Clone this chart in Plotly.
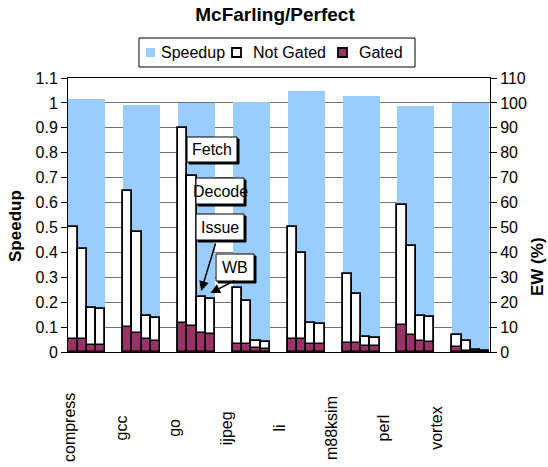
import plotly.graph_objects as go

# ---------------- data ----------------
benchmarks = ["compress", "gcc", "go", "ijpeg", "li", "m88ksim", "perl", "vortex"]
speedup = [1.016, 0.992, 0.999, 1.002, 1.048, 1.029, 0.988, 0.999]

stages = ["Fetch", "Decode", "Issue", "WB"]
not_gated_fetch = [50.3, 64.7, 90.1, 25.8, 50.3, 31.2, 59.0, 6.8]
not_gated_decode = [41.2, 48.3, 70.7, 20.5, 39.6, 23.3, 42.6, 4.4]
not_gated_issue = [17.5, 14.5, 22.0, 4.4, 11.5, 6.2, 14.5, 0.8]
not_gated_wb = [17.3, 13.5, 21.2, 4.1, 11.3, 5.8, 13.9, 0.6]

gated_fetch = [5.1, 10.2, 11.5, 3.2, 5.1, 3.5, 10.8, 1.9]
gated_decode = [5.1, 7.5, 10.4, 3.2, 5.1, 3.5, 6.8, 0.5]
gated_issue = [2.8, 5.1, 7.5, 1.5, 3.2, 2.4, 4.4, 0.2]
gated_wb = [2.8, 4.5, 7.2, 1.3, 3.2, 2.4, 4.1, 0.2]

left_ticks = [0, 0.1, 0.2, 0.3, 0.4, 0.5, 0.6, 0.7, 0.8, 0.9, 1, 1.1]
right_ticks = [0, 10, 20, 30, 40, 50, 60, 70, 80, 90, 100, 110]

series_names = ["Speedup", "Not Gated", "Gated"]
series_colors = ["#99CCFF", "white", "#993366"]

# ---------------- geometry (layout only) ----------------
W, H = 548, 467
PL, PR, PT, PB = 68, 490, 78, 352          # plot area in pixels
X_RANGE = [0, PR - PL]                     # x axis in pixel-like units
GROUP_OFF, GROUP_STEP, GROUP_W = 0.3, 54.86, 37.0
SUB_W = GROUP_W / 4
LABEL_OFF, LABEL_STEP = 2.0, 52.4

FONT = "Arial, Liberation Sans, sans-serif"

ng = [not_gated_fetch, not_gated_decode, not_gated_issue, not_gated_wb]
gt = [gated_fetch, gated_decode, gated_issue, gated_wb]

group_start = [GROUP_OFF + GROUP_STEP * i for i in range(len(benchmarks))]
sp_x = [s + GROUP_W / 2 for s in group_start]

sub_x, ng_y, gt_y = [], [], []
for i, s in enumerate(group_start):
    for k in range(4):
        sub_x.append(s + (k + 0.5) * SUB_W)
        ng_y.append(ng[k][i])
        gt_y.append(gt[k][i])


def px_x(px):
    return px - PL


def px_y2(py):
    return (PB - py) / (PB - PT) * 110


def paper_x(px):
    return (px - PL) / (PR - PL)


def paper_y(py):
    return (PB - py) / (PB - PT)


fig = go.Figure()
fig.add_trace(go.Bar(
    x=sp_x, y=speedup, width=[GROUP_W] * len(sp_x), name=series_names[0],
    marker=dict(color=series_colors[0], line=dict(width=0)), yaxis="y", showlegend=False))
fig.add_trace(go.Bar(
    x=sub_x, y=ng_y, width=[SUB_W] * len(sub_x), name=series_names[1],
    marker=dict(color=series_colors[1], line=dict(color="black", width=1.8)), yaxis="y2",
    showlegend=False))
fig.add_trace(go.Bar(
    x=sub_x, y=gt_y, width=[SUB_W] * len(sub_x), name=series_names[2],
    marker=dict(color=series_colors[2], line=dict(color="black", width=1.5)), yaxis="y2",
    showlegend=False))

annotations = []
shapes = []

# category labels (rotated)
for i, b in enumerate(benchmarks):
    annotations.append(dict(
        text=b, x=LABEL_OFF + LABEL_STEP * i, xref="x", y=paper_y(428), yref="paper",
        textangle=-90, showarrow=False, xanchor="center", yanchor="middle",
        font=dict(size=16, family=FONT, color="black")))

# axis titles
annotations.append(dict(text="<b>Speedup</b>", x=paper_x(15), y=paper_y(226), xref="paper", yref="paper",
                        textangle=-90, showarrow=False, xanchor="center", yanchor="middle",
                        font=dict(size=17, family=FONT, color="black")))
annotations.append(dict(text="<b>EW (%)</b>", x=paper_x(537), y=paper_y(267), xref="paper", yref="paper",
                        textangle=-90, showarrow=False, xanchor="center", yanchor="middle",
                        font=dict(size=17, family=FONT, color="black")))

# legend box (drawn as shapes + text)
shapes.append(dict(type="rect", xref="paper", yref="paper",
                   x0=paper_x(139), x1=paper_x(415), y0=paper_y(67), y1=paper_y(38),
                   line=dict(color="black", width=1), fillcolor="white", layer="above"))
legend_items = [(146, 159), (232, 251), (338, 357)]
for (sx, tx), name, col in zip(legend_items, series_names, series_colors):
    border = dict(width=0) if name == "Speedup" else dict(color="black", width=1.8)
    shapes.append(dict(type="rect", xref="paper", yref="paper",
                       x0=paper_x(sx), x1=paper_x(sx + 9), y0=paper_y(57), y1=paper_y(48),
                       line=border, fillcolor=col, layer="above"))
    annotations.append(dict(text=name, x=paper_x(tx), y=paper_y(52.5), xref="paper", yref="paper",
                            showarrow=False, xanchor="left", yanchor="middle",
                            font=dict(size=16, family=FONT, color="black")))

# callout boxes (box with drop shadow as shapes, text as annotation)
boxes = [("Fetch", 187, 137, 237, 162),
         ("Decode", 196, 178, 244, 204),
         ("Issue", 196, 214, 244, 240),
         ("WB", 216, 254, 254, 281)]
for txt, x0, y0, x1, y1 in boxes:
    shapes.append(dict(type="rect", xref="x", yref="y2",
                       x0=px_x(x0 + 2), x1=px_x(x1 + 2), y0=px_y2(y1 + 2), y1=px_y2(y0 + 2),
                       line=dict(color="black", width=1), fillcolor="black", layer="above"))
    shapes.append(dict(type="rect", xref="x", yref="y2",
                       x0=px_x(x0), x1=px_x(x1), y0=px_y2(y1), y1=px_y2(y0),
                       line=dict(color="black", width=1), fillcolor="white", layer="above"))
    annotations.append(dict(text=txt, x=px_x((x0 + x1) / 2), y=px_y2((y0 + y1) / 2),
                            xref="x", yref="y2", showarrow=False,
                            xanchor="center", yanchor="middle",
                            font=dict(size=16, family=FONT, color="black")))

# arrows pointing at go's Issue and WB bars
go_i = benchmarks.index("go")
for k, (tx, ty) in [(2, (216, 242)), (3, (236, 280))]:
    hx = group_start[go_i] + (k + 0.5) * SUB_W
    hy = ng[k][go_i] + 2.5
    annotations.append(dict(text="", x=hx, y=hy, xref="x", yref="y2",
                            ax=px_x(tx), ay=px_y2(ty), axref="x", ayref="y2",
                            showarrow=True, arrowhead=2, arrowsize=1.3, arrowwidth=1.5,
                            arrowcolor="black", standoff=0))

fig.update_layout(
    width=W, height=H, autosize=False,
    margin=dict(l=PL, r=W - PR, t=PT, b=H - PB, pad=0, autoexpand=False),
    paper_bgcolor="white", plot_bgcolor="white",
    barmode="overlay", bargap=0,
    font=dict(family=FONT, size=16, color="black"),
    title=dict(text="<b>McFarling/Perfect</b>", x=275 / W, xref="container", xanchor="center",
               y=1 - 14 / H, yref="container", yanchor="middle",
               font=dict(size=19, family=FONT, color="black")),
    showlegend=False,
    xaxis=dict(range=X_RANGE, showticklabels=False, showgrid=False, zeroline=False,
               showline=True, linecolor="black", linewidth=1, mirror=True, ticks="",
               automargin=False),
    yaxis=dict(range=[0, 1.1], tickvals=left_ticks, ticktext=[f"{v:g}" for v in left_ticks],
               showgrid=True, gridcolor="#707070", gridwidth=1, zeroline=False,
               showline=True, linecolor="black", linewidth=1,
               ticks="outside", ticklen=6, tickcolor="black", tickwidth=1,
               tickfont=dict(size=16, family=FONT, color="black"), automargin=False),
    yaxis2=dict(range=[0, 110], tickvals=right_ticks, overlaying="y", side="right",
                showgrid=False, zeroline=False, showline=True, linecolor="black", linewidth=1,
                ticks="outside", ticklen=6, tickcolor="black", tickwidth=1,
                tickfont=dict(size=16, family=FONT, color="black"), automargin=False),
    annotations=annotations,
    shapes=shapes,
)

fig.write_html("out.html", config={"displayModeBar": False},
               post_script="document.body.style.margin='0';document.body.style.padding='0';")
